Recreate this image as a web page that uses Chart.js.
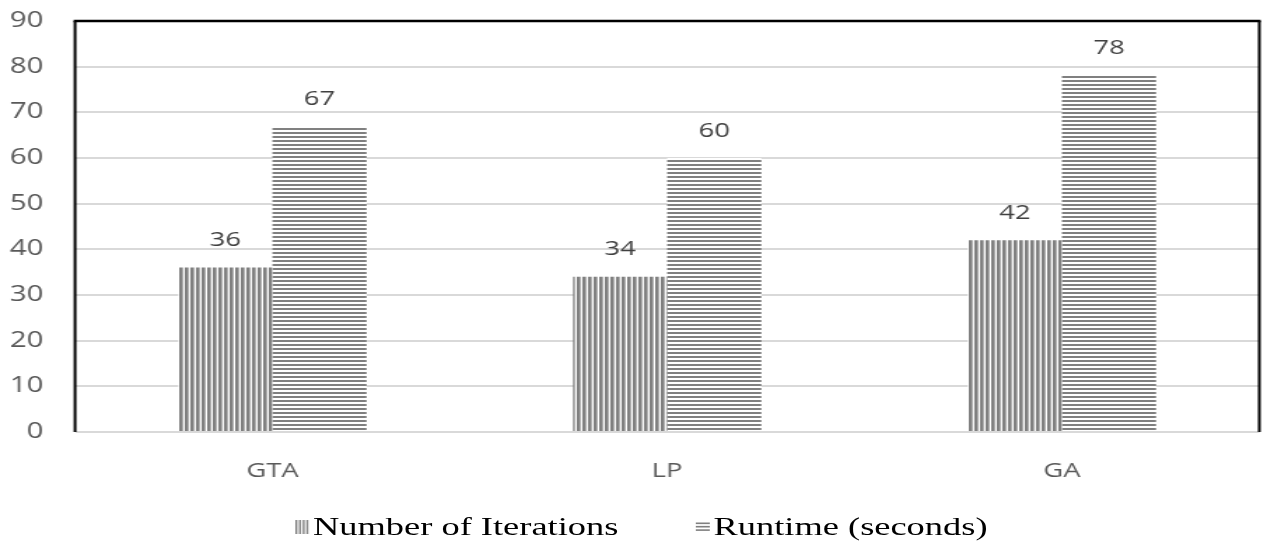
<!DOCTYPE html>
<html>
<head>
<meta charset="utf-8">
<script src="https://cdn.jsdelivr.net/npm/chart.js@4/dist/chart.umd.min.js"></script>
<style>
  html, body { margin: 0; padding: 0; background: #fff; overflow: hidden; }
  /* the source picture is stretched sideways, so lay out at 902px and widen */
  #stage { width: 902px; transform: scaleX(1.4); transform-origin: 0 0; }
  #wrap { position: relative; width: 902px; height: 500px; }
  #legend {
    display: flex; justify-content: center; align-items: center; gap: 55px;
    height: 47px; padding: 7px 0 0 14px; box-sizing: border-box;
    font-family: "Liberation Serif", "Times New Roman", serif; font-size: 26px; color: #000;
  }
  #legend span.item { display: flex; align-items: center; }
  #legend canvas { margin-right: 3px; }
</style>
</head>
<body>
<div id="stage">
  <div id="wrap"><canvas id="chart"></canvas></div>
  <div id="legend"></div>
</div>
<script>
const categories = ['GTA', 'LP', 'GA'];
const iterations = [36, 34, 42];
const runtime = [67, 60, 78];
const seriesNames = ['Number of Iterations', 'Runtime (seconds)'];
const yTicks = [0, 10, 20, 30, 40, 50, 60, 70, 80, 90];

// striped fills like the old office patterns
function stripes(vertical) {
  const c = document.createElement('canvas');
  const ctx = c.getContext('2d');
  c.width = vertical ? 4 : 1;
  c.height = vertical ? 1 : 4;
  ctx.fillStyle = '#fff';
  ctx.fillRect(0, 0, c.width, c.height);
  if (vertical) {
    ctx.fillStyle = '#808080';
    ctx.fillRect(0, 0, 2, 1);
    ctx.fillStyle = '#b0b0b0';
    ctx.fillRect(2, 0, 1, 1);
  } else {
    ctx.fillStyle = '#808080';
    ctx.fillRect(0, 0, 1, 2);
  }
  return ctx.createPattern(c, 'repeat');
}

const fills = [stripes(true), stripes(false)];

const valueLabels = {
  id: 'valueLabels',
  afterDatasetsDraw(chart) {
    const ctx = chart.ctx;
    ctx.save();
    ctx.font = '19.5px "Open Sans", sans-serif';
    ctx.fillStyle = '#404040';
    ctx.textAlign = 'center';
    ctx.textBaseline = 'middle';
    chart.data.datasets.forEach((ds, i) => {
      chart.getDatasetMeta(i).data.forEach((bar, j) => {
        ctx.fillText(ds.data[j], bar.x, bar.y - 27);
      });
    });
    ctx.restore();
  }
};

const frame = {
  id: 'frame',
  afterDraw(chart) {
    const a = chart.chartArea;
    const ctx = chart.ctx;
    ctx.save();
    ctx.strokeStyle = '#000';
    ctx.lineWidth = 2;
    ctx.beginPath();
    ctx.moveTo(a.left, a.bottom);
    ctx.lineTo(a.left, a.top);
    ctx.moveTo(a.right, a.top);
    ctx.lineTo(a.right, a.bottom);
    ctx.stroke();
    ctx.lineWidth = 2.5;
    ctx.beginPath();
    ctx.moveTo(a.left - 1, a.top);
    ctx.lineTo(a.right + 1, a.top);
    ctx.stroke();
    ctx.restore();
  }
};

new Chart(document.getElementById('chart'), {
  type: 'bar',
  data: {
    labels: categories,
    datasets: [
      { label: seriesNames[0], data: iterations, backgroundColor: fills[0] },
      { label: seriesNames[1], data: runtime, backgroundColor: fills[1] }
    ]
  },
  options: {
    responsive: true,
    maintainAspectRatio: false,
    animation: false,
    layout: { padding: { left: 0, right: 2.5, top: 21, bottom: 0 } },
    datasets: { bar: { barPercentage: 1, categoryPercentage: 0.477 } },
    plugins: {
      legend: { display: false },
      tooltip: { enabled: false }
    },
    scales: {
      x: {
        grid: { display: false, drawTicks: false },
        border: { display: false },
        ticks: { padding: 28, color: '#595959', font: { family: 'Open Sans', size: 19.5 } },
        afterFit: (axis) => { axis.height = 68; }
      },
      y: {
        min: 0, max: 90,
        afterBuildTicks: (axis) => { axis.ticks = yTicks.map(v => ({ value: v })); },
        grid: { color: '#d9d9d9', lineWidth: 2, drawTicks: false },
        border: { display: false },
        ticks: { padding: 22.5, color: '#595959', font: { family: 'Open Sans', size: 21 } },
        afterFit: (axis) => {
          axis.width = 53.6;
          axis.paddingTop = 10;
          axis.paddingBottom = 10;
        }
      }
    }
  },
  plugins: [valueLabels, frame]
});

// legend under the chart
const legend = document.getElementById('legend');
seriesNames.forEach((name, i) => {
  const item = document.createElement('span');
  item.className = 'item';
  const sw = document.createElement('canvas');
  sw.width = 10;
  sw.height = i === 0 ? 14 : 10;
  const sctx = sw.getContext('2d');
  sctx.fillStyle = '#808080';
  for (let k = 0; k < 4; k++) {
    if (i === 0) sctx.fillRect(k * 2.6, 0, 1.4, 14);
    else if (k < 3) sctx.fillRect(0, k * 3.4 + 0.5, 10, 1.6);
  }
  item.appendChild(sw);
  item.appendChild(document.createTextNode(name));
  legend.appendChild(item);
});
</script>
</body>
</html>
